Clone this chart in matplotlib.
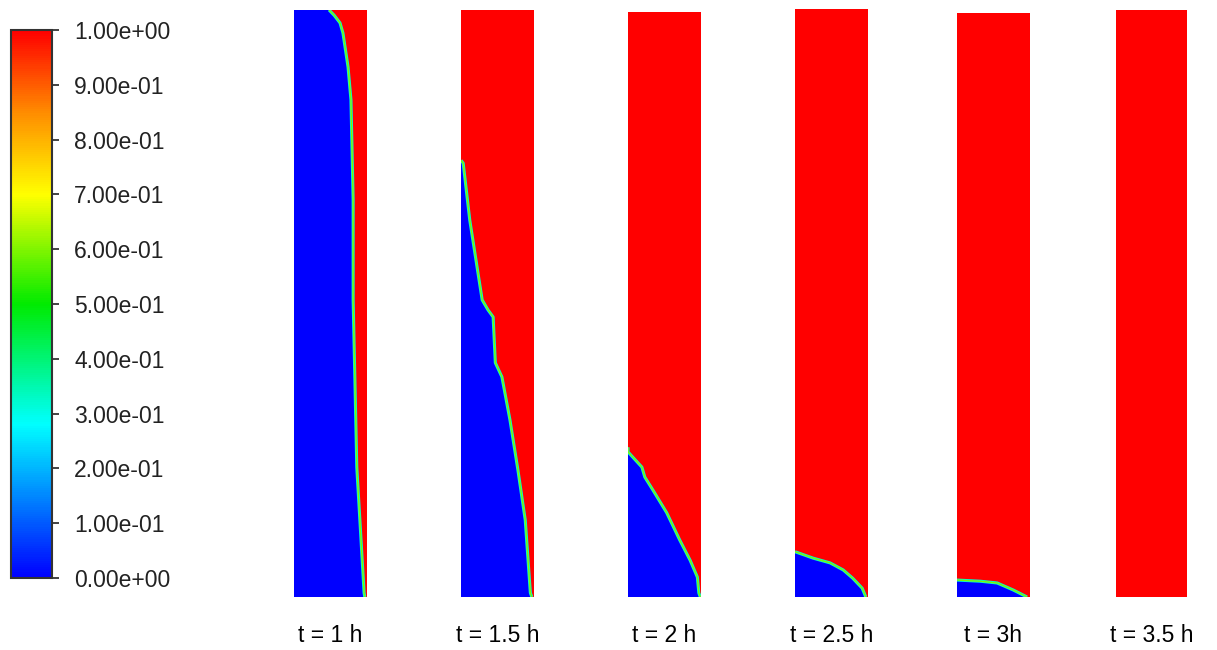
import numpy as np
import matplotlib
matplotlib.use("Agg")
import matplotlib.pyplot as plt
from matplotlib.colors import LinearSegmentedColormap, Normalize
from matplotlib.cm import ScalarMappable
from matplotlib.patches import Polygon

plt.rcParams["font.family"] = ["Liberation Sans", "DejaVu Sans"]

# time labels under each snapshot
labels = ["t = 1 h", "t = 1.5 h", "t = 2 h", "t = 2.5 h", "t = 3h", "t = 3.5 h"]

# colour bar ticks (volume fraction)
cbar_ticks = [0.0, 0.1, 0.2, 0.3, 0.4, 0.5, 0.6, 0.7, 0.8, 0.9, 1.0]

# interface points (x as fraction of width, y as fraction of height), blue phase below/left
iface_x = [
    [0.48, 0.55, 0.63, 0.67, 0.74, 0.78, 0.79, 0.81, 0.81, 0.84, 0.86, 0.90, 0.96, 0.97],
    [0.0, 0.03, 0.12, 0.29, 0.37, 0.44, 0.47, 0.56, 0.67, 0.78, 0.88, 0.95, 0.97],
    [0.0, 0.0, 0.19, 0.23, 0.34, 0.53, 0.71, 0.85, 0.95, 0.97, 0.99],
    [0.0, 0.25, 0.48, 0.66, 0.79, 0.92, 0.97],
    [0.0, 0.32, 0.55, 0.77, 0.96],
    [],
]
iface_y = [
    [1.0, 0.991, 0.978, 0.961, 0.903, 0.847, 0.790, 0.676, 0.506, 0.336, 0.221, 0.136, 0.007, 0.0],
    [0.744, 0.739, 0.642, 0.506, 0.489, 0.477, 0.399, 0.375, 0.302, 0.216, 0.131, 0.007, 0.0],
    [0.256, 0.248, 0.222, 0.205, 0.183, 0.144, 0.097, 0.063, 0.034, 0.007, 0.0],
    [0.077, 0.066, 0.058, 0.046, 0.032, 0.015, 0.0],
    [0.029, 0.027, 0.024, 0.012, 0.0],
    [],
]

# layout in pixels (figure is 1217 x 650)
W, H = 1217, 650
panel_left = [294, 461, 628, 795, 957, 1116]
panel_width = [73, 73, 73, 73, 73, 71]
panel_top = [10, 10, 12, 9, 13, 10]
panel_bottom = 597

cmap = LinearSegmentedColormap.from_list(
    "fluent",
    [(0.0, (0, 0, 1)), (0.28, (0, 1, 1)), (0.5, (0, 0.92, 0)),
     (0.7, (1, 1, 0)), (0.85, (1, 0.55, 0)), (1.0, (1, 0, 0))],
)

fig = plt.figure(figsize=(W / 100, H / 100), dpi=100)

for i in range(6):
    ax = fig.add_axes([panel_left[i] / W, (H - panel_bottom) / H,
                       panel_width[i] / W, (panel_bottom - panel_top[i]) / H])
    ax.set_xlim(0, 1)
    ax.set_ylim(0, 1)
    ax.set_facecolor(cmap(1.0))
    ax.set_xticks([])
    ax.set_yticks([])
    for s in ax.spines.values():
        s.set_visible(False)

    xs, ys = iface_x[i], iface_y[i]
    if xs:
        pts = [(0, 0), (0, ys[0])] + list(zip(xs, ys)) + [(xs[-1], 0)]
        ax.add_patch(Polygon(pts, closed=True, facecolor=cmap(0.0), edgecolor="none"))
        ax.plot(xs, ys, color=cmap(0.32), lw=2.2, solid_capstyle="butt")
        ax.plot(xs, ys, color=cmap(0.6), lw=1.0, solid_capstyle="butt")

    cx = (panel_left[i] + panel_width[i] / 2) / W
    fig.text(cx, 14 / H, labels[i], ha="center", va="center", fontsize=16.5)

# colour bar
cax = fig.add_axes([11 / W, (H - 578) / H, 41 / W, 548 / H])
sm = ScalarMappable(norm=Normalize(0, 1), cmap=cmap)
cb = fig.colorbar(sm, cax=cax, ticks=cbar_ticks)
cb.ax.set_yticklabels(["%.2e" % v for v in cbar_ticks])
cb.ax.tick_params(labelsize=16.5, length=5, width=1.2, pad=11, colors="#222222")
cb.outline.set_linewidth(1.5)
cb.outline.set_edgecolor("#333333")

fig.savefig("out.png", dpi=100)
